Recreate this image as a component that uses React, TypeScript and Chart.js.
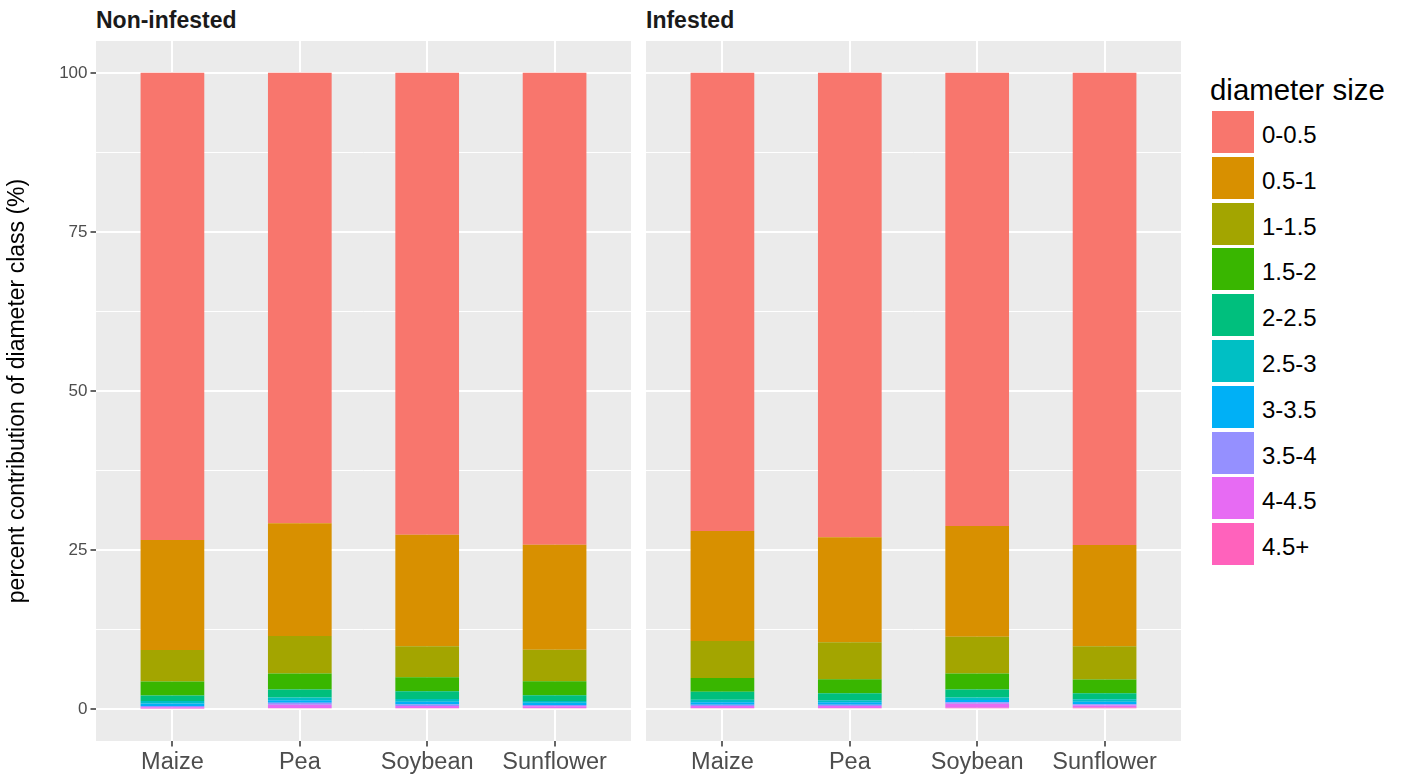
import React, { useEffect, useRef } from 'react';
import { Chart, registerables } from 'chart.js';

Chart.register(...registerables);

const crops = ['Maize', 'Pea', 'Soybean', 'Sunflower'];
const sizeClasses = ['0-0.5', '0.5-1', '1-1.5', '1.5-2', '2-2.5', '2.5-3', '3-3.5', '3.5-4', '4-4.5', '4.5+'];
const classColors = ['#F8766D', '#D89000', '#A3A500', '#39B600', '#00BF7D', '#00BFC4', '#00B0F6', '#9590FF', '#E76BF3', '#FF62BC'];
const yGridValues = [0, 12.5, 25, 37.5, 50, 62.5, 75, 87.5, 100];

// Percent share of each diameter class (same order as sizeClasses)
const nonInfestedMaize = [73.4, 17.3, 4.95, 2.2, 0.85, 0.4, 0.4, 0.2, 0.2, 0.1];
const nonInfestedPea = [70.8, 17.7, 5.9, 2.5, 1.25, 0.45, 0.4, 0.3, 0.5, 0.2];
const nonInfestedSoybean = [72.6, 17.5, 4.9, 2.2, 1.2, 0.45, 0.4, 0.25, 0.3, 0.2];
const nonInfestedSunflower = [74.15, 16.5, 4.95, 2.2, 0.9, 0.3, 0.35, 0.2, 0.25, 0.2];

const infestedMaize = [72.0, 17.3, 5.8, 2.15, 1.25, 0.4, 0.4, 0.2, 0.3, 0.2];
const infestedPea = [73.0, 16.5, 5.8, 2.2, 1.1, 0.3, 0.4, 0.2, 0.3, 0.2];
const infestedSoybean = [71.2, 17.4, 5.8, 2.5, 1.26, 0.4, 0.35, 0.25, 0.6, 0.24];
const infestedSunflower = [74.2, 15.9, 5.23, 2.17, 0.93, 0.4, 0.4, 0.2, 0.3, 0.27];

const nonInfested = [nonInfestedMaize, nonInfestedPea, nonInfestedSoybean, nonInfestedSunflower];
const infested = [infestedMaize, infestedPea, infestedSoybean, infestedSunflower];

const FONT = '"Liberation Sans", Arial, Helvetica, sans-serif';

const panelBackground = {
  id: 'panelBackground',
  beforeDraw(chart: any) {
    const { ctx, chartArea: a } = chart;
    ctx.save();
    ctx.fillStyle = '#EBEBEB';
    ctx.fillRect(a.left, a.top, a.right - a.left, a.bottom - a.top);
    ctx.restore();
  },
};

type PanelProps = {
  title: string;
  shares: number[][];
  showY: boolean;
  left: number;
  width: number;
  yAxisWidth: number;
  padRight: number;
};

function Panel({ title, shares, showY, left, width, yAxisWidth, padRight }: PanelProps) {
  const ref = useRef<HTMLCanvasElement | null>(null);

  useEffect(() => {
    if (!ref.current) return;
    // first class sits on top of the stack, so add datasets bottom-up
    const datasets = sizeClasses
      .map((name, k) => ({
        label: name,
        data: crops.map((_, i) => ({ x: i + 1, y: shares[i][k] })),
        backgroundColor: classColors[k],
        borderWidth: 0,
        categoryPercentage: 1,
        barPercentage: 0.5,
      }))
      .reverse();

    const isMajor = (ctx: any) => ctx.tick && ctx.tick.value % 25 === 0;

    const chart = new Chart(ref.current, {
      type: 'bar',
      data: { datasets } as any,
      options: {
        animation: false,
        responsive: false,
        devicePixelRatio: 1,
        layout: { padding: { left: 0, right: padRight, top: 41, bottom: 0 } },
        plugins: { legend: { display: false }, tooltip: { enabled: false } },
        scales: {
          x: {
            type: 'linear',
            stacked: true,
            offset: false,
            min: 0.4,
            max: 4.6,
            afterBuildTicks: (s: any) => {
              s.ticks = crops.map((_, i) => ({ value: i + 1 }));
            },
            afterFit: (s: any) => {
              s.height = 38;
            },
            ticks: {
              autoSkip: false,
              maxRotation: 0,
              padding: 2,
              color: '#4D4D4D',
              font: { family: FONT, size: 23.5 },
              callback: (v: any) => crops[Math.round(Number(v)) - 1] ?? '',
            },
            grid: {
              offset: false,
              color: '#FFFFFF',
              lineWidth: 2,
              tickLength: 5.5,
              tickColor: '#333333',
              tickWidth: 1.5,
            },
            border: { display: false },
          },
          y: {
            type: 'linear',
            stacked: true,
            min: -5,
            max: 105,
            afterBuildTicks: (s: any) => {
              s.ticks = yGridValues.map((v) => ({ value: v }));
            },
            afterFit: (s: any) => {
              s.width = yAxisWidth;
            },
            ticks: {
              display: showY,
              padding: 3,
              color: '#4D4D4D',
              font: { family: FONT, size: 17 },
              callback: (v: any) => (Number(v) % 25 === 0 ? String(v) : ''),
            },
            grid: {
              color: '#FFFFFF',
              lineWidth: (ctx: any) => (isMajor(ctx) ? 2 : 1),
              drawTicks: showY,
              tickLength: 5.5,
              tickColor: (ctx: any) => (isMajor(ctx) ? '#333333' : 'rgba(0,0,0,0)'),
              tickWidth: 1.5,
            },
            border: { display: false },
            title: {
              display: showY,
              text: 'percent contribution of diameter class (%)',
              color: '#000000',
              font: { family: FONT, size: 23 },
              padding: { top: 4, bottom: 0 },
            },
          },
        },
      } as any,
      plugins: [panelBackground],
    });
    return () => chart.destroy();
  }, [shares, showY, yAxisWidth, padRight]);

  return (
    <>
      <div
        style={{
          position: 'absolute',
          left: left + yAxisWidth,
          top: 6,
          font: `bold 23px ${FONT}`,
          lineHeight: '28px',
          color: '#1A1A1A',
          whiteSpace: 'nowrap',
        }}
      >
        {title}
      </div>
      <canvas
        ref={ref}
        width={width}
        height={779}
        style={{ position: 'absolute', left, top: 0, width, height: 779 }}
      />
    </>
  );
}

function Legend() {
  return (
    <>
      <div
        style={{
          position: 'absolute',
          left: 1210,
          top: 72,
          font: `29.4px ${FONT}`,
          lineHeight: '35px',
          color: '#000000',
          whiteSpace: 'nowrap',
        }}
      >
        diameter size
      </div>
      {sizeClasses.map((name, i) => {
        const top = 111 + i * 45.8;
        return (
          <React.Fragment key={name}>
            <div
              style={{
                position: 'absolute',
                left: 1212,
                top,
                width: 42,
                height: 42,
                background: classColors[i],
              }}
            />
            <div
              style={{
                position: 'absolute',
                left: 1262,
                top: top + 3,
                height: 42,
                font: `24px ${FONT}`,
                lineHeight: '42px',
                color: '#000000',
                whiteSpace: 'nowrap',
              }}
            >
              {name}
            </div>
          </React.Fragment>
        );
      })}
    </>
  );
}

export default function App() {
  return (
    <div
      style={{
        position: 'absolute',
        left: 0,
        top: 0,
        width: 1403,
        height: 779,
        background: '#FFFFFF',
        overflow: 'hidden',
      }}
    >
      <Panel title="Non-infested" shares={nonInfested} showY={true} left={0} width={640} yAxisWidth={96} padRight={9} />
      <Panel title="Infested" shares={infested} showY={false} left={636} width={554} yAxisWidth={10} padRight={9} />
      <Legend />
    </div>
  );
}
